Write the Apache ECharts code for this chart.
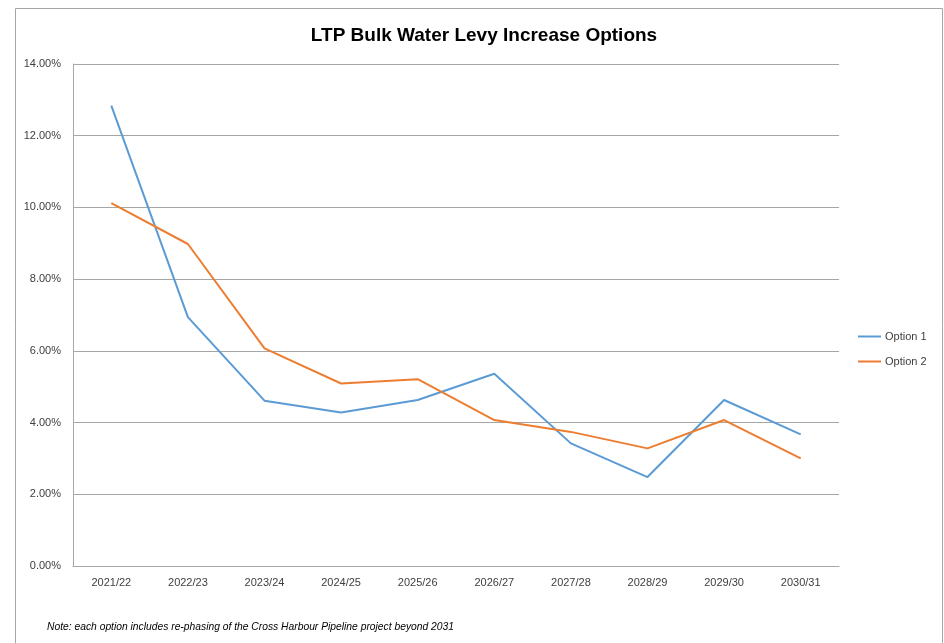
<!DOCTYPE html>
<html>
<head>
<meta charset="utf-8">
<script src="https://cdn.jsdelivr.net/npm/echarts@6/dist/echarts.min.js"></script>
<style>
html,body{margin:0;padding:0;background:#fff;}
#chart{width:944px;height:643px;}
</style>
</head>
<body>
<div id="chart"></div>
<script>
const categories = ['2021/22','2022/23','2023/24','2024/25','2025/26','2026/27','2027/28','2028/29','2029/30','2030/31'];
const option1 = [12.84, 6.94, 4.61, 4.28, 4.63, 5.36, 3.42, 2.48, 4.63, 3.67];
const option2 = [10.12, 8.98, 6.07, 5.09, 5.21, 4.07, 3.74, 3.28, 4.07, 3.00];
const yTicks = {min: 0, max: 14, interval: 2};

const chart = echarts.init(document.getElementById('chart'));
const font = 'Liberation Sans, Arial, sans-serif';
chart.setOption({
  animation: false,
  backgroundColor: '#fff',
  title: {
    text: 'LTP Bulk Water Levy Increase Options',
    left: 479, top: 21, textAlign: 'center',
    textStyle: {fontFamily: font, fontSize: 19, fontWeight: 'bold', color: '#000'}
  },
  legend: {
    orient: 'vertical', left: 853, top: 326, itemGap: 14,
    icon: 'rect', itemWidth: 23, itemHeight: 2,
    textStyle: {fontFamily: font, fontSize: 11, color: '#404040', padding: [0,0,0,-1]},
    data: ['Option 1', 'Option 2']
  },
  grid: {left: 73, right: 105, top: 64, bottom: 77, containLabel: false},
  xAxis: {
    type: 'category', data: categories, boundaryGap: true,
    axisLine: {show: true, lineStyle: {color: '#a6a6a6', width: 1}},
    axisTick: {show: false},
    axisLabel: {fontFamily: font, fontSize: 11, color: '#404040', margin: 11}
  },
  yAxis: {
    type: 'value', min: yTicks.min, max: yTicks.max, interval: yTicks.interval,
    axisLine: {show: true, lineStyle: {color: '#a6a6a6', width: 1}},
    axisTick: {show: false},
    splitLine: {show: true, lineStyle: {color: '#a6a6a6', width: 1}},
    axisLabel: {fontFamily: font, fontSize: 11, color: '#404040', margin: 12,
      formatter: v => v.toFixed(2) + '%'}
  },
  series: [
    {name: 'Option 1', type: 'line', data: option1, symbol: 'none',
     lineStyle: {color: '#5B9BD5', width: 2}, itemStyle: {color: '#5B9BD5'}},
    {name: 'Option 2', type: 'line', data: option2, symbol: 'none',
     lineStyle: {color: '#ED7D31', width: 2}, itemStyle: {color: '#ED7D31'}}
  ],
  graphic: [
    {type: 'rect', shape: {x: 15.5, y: 8.5, width: 927, height: 660},
     style: {fill: 'none', stroke: '#a6a6a6', lineWidth: 1}, silent: true},
    {type: 'text', left: 47, top: 622,
     style: {text: 'Note: each option includes re-phasing of the Cross Harbour Pipeline project beyond 2031',
       fontFamily: font, fontSize: 10.3, fontStyle: 'italic', fill: '#000'}}
  ]
});
</script>
</body>
</html>
